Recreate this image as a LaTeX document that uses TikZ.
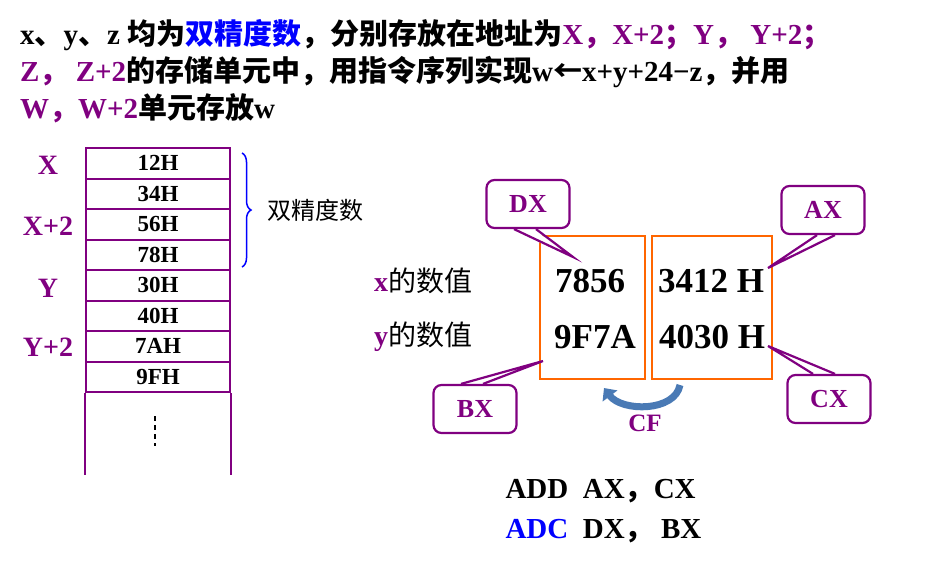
\documentclass[tikz,border=0pt]{standalone}
\usepackage{amsmath}
\usepackage{fontspec}
\setmainfont{Liberation Serif}
\newfontfamily\cjk{Noto Sans CJK SC}
\usetikzlibrary{positioning,arrows.meta,decorations.pathreplacing}
\definecolor{vio}{HTML}{800080}
\definecolor{org}{HTML}{FF6600}
\definecolor{cfblue}{HTML}{4A7AB5}
\newcommand{\zh}[1]{{\cjk\bfseries #1}}
\newcommand{\vi}[1]{\textcolor{vio}{#1}}
\tikzset{
  cell/.style={draw=vio,line width=2pt,minimum width=144pt,minimum height=30.5pt,inner sep=0pt,font=\bfseries\fontsize{23}{23}\selectfont},
  addr/.style={text=vio,font=\bfseries\fontsize{28}{28}\selectfont},
  title/.style={anchor=west,inner sep=0pt,font=\bfseries\fontsize{29}{29}\selectfont},
  val/.style={font=\bfseries\fontsize{35}{35}\selectfont},
  reg/.style={draw=org,line width=2pt,minimum height=143pt},
  callout/.style={draw=vio,line width=2.2pt,rounded corners=8pt,fill=white,text=vio,minimum width=83pt,minimum height=48pt,font=\bfseries\fontsize{26}{26}\selectfont},
  wedge/.style={draw=vio,line width=2.2pt,line join=miter}
}
\begin{document}
\begin{tikzpicture}[x=1pt,y=-1pt]
\useasboundingbox (0,0) rectangle (936,568);
% title
\node[title] (t1) at (20,35) {x\zh{、}y\zh{、}z \zh{均为}\textcolor{blue}{\zh{双精度数}}\zh{，分别存放在地址为}\vi{X\zh{，}X+2\zh{；}Y\zh{，} Y+2\zh{；}}};
\node[title] (t2) at (20,72) {\vi{Z\zh{，} Z+2}\zh{的存储单元中，用指令序列实现}w{\cjk\bfseries ←}x+y+24\textminus z\zh{，并用}};
\node[title] (t3) at (20,108) {\vi{W\zh{，}W+2}\zh{单元存放}w};
% memory
\foreach \v [count=\i] in {12H,34H,56H,78H,30H,40H,7AH,9FH}
  \node[cell] (m\i) at (158,{148+30.5*(\i-0.5)}) {\v};
\draw[vio,line width=2pt] (m8.south west) -- ++(0,82) (m8.south east) -- ++(0,82);
\coordinate (dt) at (155,416);
\coordinate (db) at (155,446);
\draw[line width=2.5pt,dash pattern=on 5pt off 4pt] (dt) -- (db);
\node[addr] (ax) at (48,165) {X};
\node[addr] (ax2) at (48,226) {X+2};
\node[addr] (ay) at (48,288) {Y};
\node[addr] (ay2) at (48,347) {Y+2};
\draw[blue,line width=1.5pt,decorate,decoration={brace,amplitude=9pt}] (242,153) -- (242,267);
\node[anchor=west,font=\cjk\fontsize{24}{24}\selectfont] (dp) at (264,210) {双精度数};
% registers
\node[reg,minimum width=105pt] (hi) at (592,307.5) {};
\node[reg,minimum width=120pt] (lo) at (712,307.5) {};
\node[font=\cjk\fontsize{28}{28}\selectfont] (xv) at (423,281) {\vi{\bfseries\rmfamily x}的数值};
\node[font=\cjk\fontsize{28}{28}\selectfont] (yv) at (423,337) {\vi{\bfseries\rmfamily y}的数值};
\node[val] (v1) at (590,281) {7856};
\node[val] (v2) at (711,281) {3412 H};
\node[val] (v3) at (595,337) {9F7A};
\node[val] (v4) at (712,337) {4030 H};
% callouts
\node[callout] (dx) at (528,204) {DX};
\node[callout] (axr) at (823,210) {AX};
\node[callout] (bx) at (475,409) {BX};
\node[callout] (cx) at (829,399) {CX};
\coordinate (pdx) at (573,257);
\coordinate (pax) at (768,268);
\coordinate (pbx) at (543,361);
\coordinate (pcx) at (768,346);
\fill[white] ([xshift=-14pt,yshift=-2pt]dx.south) -- (pdx) -- ([xshift=8pt,yshift=-2pt]dx.south) -- cycle;
\draw[wedge] ([xshift=-14pt]dx.south) -- (pdx) -- ([xshift=8pt]dx.south);
\fill[white] ([xshift=-6pt,yshift=-2pt]axr.south) -- (pax) -- ([xshift=12pt,yshift=-2pt]axr.south) -- cycle;
\draw[wedge] ([xshift=-6pt]axr.south) -- (pax) -- ([xshift=12pt]axr.south);
\fill[white] ([xshift=-14pt,yshift=2pt]bx.north) -- (pbx) -- ([xshift=8pt,yshift=2pt]bx.north) -- cycle;
\draw[wedge] ([xshift=-14pt]bx.north) -- (pbx) -- ([xshift=8pt]bx.north);
\fill[white] ([xshift=-16pt,yshift=2pt]cx.north) -- (pcx) -- ([xshift=6pt,yshift=2pt]cx.north) -- cycle;
\draw[wedge] ([xshift=-16pt]cx.north) -- (pcx) -- ([xshift=6pt]cx.north);
% carry
\coordinate (cfa) at (680,385);
\coordinate (cfb) at (604,388);
\draw[cfblue,line width=7pt,-{Triangle[length=10pt,width=18pt]}] (cfa) .. controls (675,412) and (622,412) .. (cfb);
\node[text=vio,font=\bfseries\fontsize{25}{25}\selectfont] (cf) at (645,423) {CF};
% instructions
\node[anchor=west,font=\bfseries\fontsize{29}{29}\selectfont] (i1) at (502,491) {ADD\ \ AX\zh{，}CX};
\node[anchor=west,font=\bfseries\fontsize{29}{29}\selectfont] (i2) at (502,531) {\textcolor{blue}{ADC}\ \ DX\zh{，} BX};
\end{tikzpicture}
\end{document}
